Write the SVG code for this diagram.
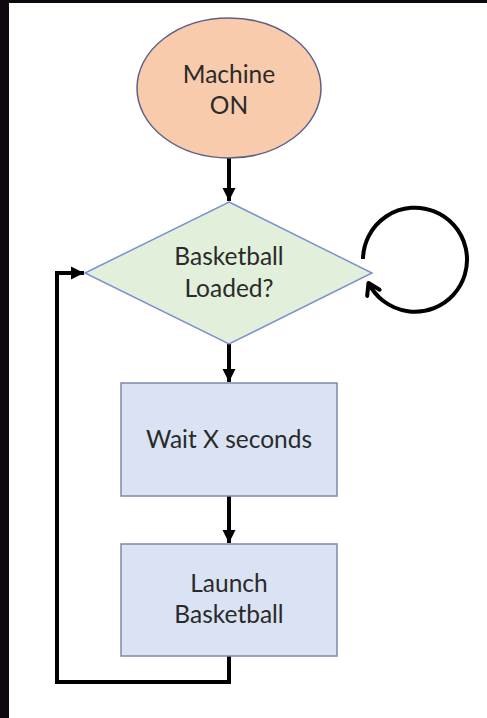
<svg xmlns="http://www.w3.org/2000/svg" width="487" height="718" viewBox="0 0 487 718">
<style>
  .lbl{font-family:Lato,"Open Sans","Liberation Sans",sans-serif;font-size:24.5px;fill:#2a2a2a;text-anchor:middle}
  .con{fill:none;stroke:#000;stroke-width:4}
</style>
<defs>
  <marker id="ah" markerUnits="userSpaceOnUse" markerWidth="14" markerHeight="14" viewBox="0 0 14 14" refX="13" refY="7" orient="auto">
    <path d="M0,0.5 L13,7 L0,13.5 Z" fill="#000"/>
  </marker>
  <marker id="oa" markerUnits="userSpaceOnUse" markerWidth="18" markerHeight="18" viewBox="0 0 18 18" refX="14" refY="9" orient="auto">
    <path d="M3,2 L14,9 L3,16" fill="none" stroke="#000" stroke-width="4" stroke-linecap="round" stroke-linejoin="round"/>
  </marker>
</defs>
<rect width="487" height="718" fill="#0d0710"/>
<rect x="9" y="3" width="478" height="715" fill="#ffffff"/>
<g id="connectors">
  <path class="con" d="M229,158 L229,201" marker-end="url(#ah)"/>
  <path class="con" d="M229,344 L229,382" marker-end="url(#ah)"/>
  <path class="con" d="M229,496 L229,543" marker-end="url(#ah)"/>
  <path class="con" d="M229,656 L229,682 L57,682 L57,273 L84,273" marker-end="url(#ah)"/>
  <path class="con" d="M363,259 A52,52 0 1 1 368.5,283" marker-end="url(#oa)"/>
</g>
<g id="start">
  <ellipse cx="229" cy="88" rx="92" ry="70" fill="#f8cbad" stroke="#5e5f86" stroke-width="1.5"/>
  <text class="lbl" x="229" y="83">Machine</text>
  <text class="lbl" x="229" y="114">ON</text>
</g>
<g id="decision">
  <polygon points="229,202 372,273 229,344 85,273" fill="#e2efda" stroke="#7c8fd2" stroke-width="1.5"/>
  <text class="lbl" x="229" y="265">Basketball</text>
  <text class="lbl" x="229" y="297">Loaded?</text>
</g>
<g id="wait">
  <rect x="121" y="383" width="216" height="113" fill="#dae3f3" stroke="#7e8aa6" stroke-width="1.5"/>
  <text class="lbl" x="229" y="448">Wait X seconds</text>
</g>
<g id="launch">
  <rect x="121" y="544" width="216" height="112" fill="#dae3f3" stroke="#7e8aa6" stroke-width="1.5"/>
  <text class="lbl" x="229" y="592">Launch</text>
  <text class="lbl" x="229" y="623">Basketball</text>
</g>
</svg>
